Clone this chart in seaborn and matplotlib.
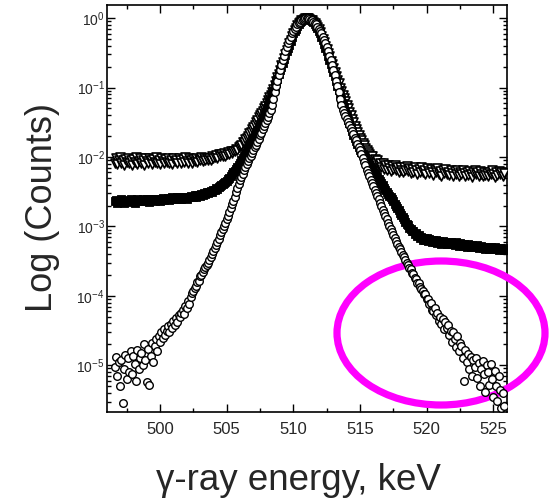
import numpy as np
import pandas as pd
import matplotlib
matplotlib.use("Agg")
import matplotlib.pyplot as plt
import seaborn as sns
from matplotlib.patches import Ellipse
from matplotlib.ticker import FixedLocator, FixedFormatter, LogLocator, NullFormatter, MultipleLocator

# channel calibration of the spectrum (keV)
energy_start = 496.6
energy_step = 0.1

# log10(counts), one value per channel
circles_log10 = [
    -5.02, -4.88, -5.15, -4.95, -5.30, -4.92, -5.55, -5.05, -4.85, -5.20,
    -4.90, -5.10, -4.80, -5.12, -4.86, -4.98, -5.22, -4.78, -5.05, -4.90,
    -4.82, -5.00, -4.70, -4.92, -5.24, -4.76, -5.28, -4.86, -4.68, -4.95,
    -4.72, -4.62, -4.80, -4.58, -4.66, -4.52, -4.60, -4.48, -4.56, -4.50,
    -4.44, -4.52, -4.40, -4.46, -4.36, -4.42, -4.32, -4.38, -4.28, -4.30,
    -4.24, -4.20, -4.26, -4.14, -4.18, -4.08, -4.12, -4.02, -3.96, -3.93,
    -3.88, -3.86, -3.80, -3.78, -3.72, -3.70, -3.66, -3.62, -3.58, -3.56,
    -3.52, -3.48, -3.44, -3.40, -3.36, -3.31, -3.27, -3.22, -3.18, -3.13,
    -3.08, -3.04, -2.99, -2.95, -2.90, -2.85, -2.79, -2.74, -2.68, -2.63,
    -2.57, -2.51, -2.45, -2.39, -2.33, -2.29, -2.24, -2.19, -2.15, -2.10,
    -2.06, -2.02, -1.98, -1.94, -1.90, -1.86, -1.82, -1.78, -1.74, -1.69,
    -1.65, -1.60, -1.56, -1.51, -1.47, -1.42, -1.37, -1.32, -1.25, -1.16,
    -1.07, -0.98, -0.90, -0.82, -0.74, -0.67, -0.60, -0.54, -0.47, -0.42,
    -0.36, -0.31, -0.27, -0.22, -0.19, -0.15, -0.12, -0.09, -0.07, -0.05,
    -0.03, -0.02, -0.01, 0.00, 0.00, 0.00, -0.01, -0.02, -0.03, -0.05,
    -0.07, -0.09, -0.12, -0.15, -0.19, -0.22, -0.27, -0.31, -0.36, -0.42,
    -0.47, -0.54, -0.60, -0.67, -0.74, -0.82, -0.90, -0.98, -1.07, -1.16,
    -1.25, -1.32, -1.37, -1.41, -1.45, -1.50, -1.54, -1.58, -1.63, -1.67,
    -1.72, -1.76, -1.81, -1.85, -1.90, -1.96, -2.01, -2.07, -2.12, -2.18,
    -2.23, -2.28, -2.33, -2.37, -2.42, -2.47, -2.52, -2.56, -2.61, -2.66,
    -2.71, -2.76, -2.80, -2.85, -2.90, -2.95, -2.99, -3.04, -3.08, -3.13,
    -3.17, -3.21, -3.25, -3.29, -3.33, -3.37, -3.41, -3.44, -3.48, -3.52,
    -3.56, -3.60, -3.62, -3.67, -3.69, -3.74, -3.75, -3.81, -3.82, -3.87,
    -3.90, -3.93, -3.98, -3.97, -4.05, -4.04, -4.12, -4.10, -4.20, -4.22,
    -4.18, -4.28, -4.24, -4.36, -4.30, -4.40, -4.34, -4.48, -4.38, -4.46,
    -4.42, -4.56, -4.50, -4.66, -4.52, -4.62, -4.74, -4.58, -4.80, -4.68,
    -4.72, -4.90, -5.22, -4.78, -4.95, -4.84, -5.05, -4.88, -5.15, -4.92,
    -5.02, -4.90, -5.18, -4.96, -5.30, -5.06, -4.94, -5.12, -5.38, -5.00,
    -5.10, -5.28, -4.98, -5.20, -5.45, -5.08, -5.30, -5.52, -5.15, -5.35,
    -5.62, -5.40, -5.58,
]

squares_log10 = [
    -2.64, -2.62, -2.66, -2.63, -2.65, -2.61, -2.64, -2.66, -2.62, -2.64,
    -2.63, -2.65, -2.61, -2.64, -2.62, -2.66, -2.63, -2.61, -2.64, -2.62,
    -2.63, -2.61, -2.64, -2.62, -2.60, -2.63, -2.65, -2.61, -2.62, -2.60,
    -2.63, -2.61, -2.62, -2.60, -2.63, -2.61, -2.59, -2.62, -2.60, -2.61,
    -2.59, -2.62, -2.60, -2.58, -2.61, -2.59, -2.61, -2.58, -2.60, -2.58,
    -2.60, -2.57, -2.59, -2.58, -2.60, -2.57, -2.58, -2.56, -2.58, -2.57,
    -2.55, -2.57, -2.55, -2.54, -2.56, -2.53, -2.54, -2.52, -2.53, -2.51,
    -2.52, -2.50, -2.49, -2.50, -2.47, -2.48, -2.45, -2.46, -2.43, -2.42,
    -2.41, -2.39, -2.38, -2.36, -2.35, -2.32, -2.30, -2.27, -2.25, -2.22,
    -2.20, -2.17, -2.14, -2.11, -2.08, -2.05, -2.01, -1.98, -1.94, -1.90,
    -1.87, -1.83, -1.80, -1.76, -1.72, -1.68, -1.64, -1.61, -1.57, -1.53,
    -1.49, -1.44, -1.39, -1.35, -1.30, -1.25, -1.20, -1.15, -1.10, -1.05,
    -0.99, -0.93, -0.87, -0.81, -0.75, -0.70, -0.64, -0.59, -0.53, -0.48,
    -0.43, -0.38, -0.33, -0.27, -0.22, -0.18, -0.15, -0.11, -0.08, -0.06,
    -0.04, -0.02, -0.01, 0.00, 0.00, 0.00, -0.01, -0.02, -0.04, -0.06,
    -0.08, -0.11, -0.14, -0.18, -0.22, -0.27, -0.32, -0.37, -0.43, -0.48,
    -0.54, -0.60, -0.66, -0.72, -0.78, -0.84, -0.91, -0.97, -1.04, -1.10,
    -1.16, -1.22, -1.28, -1.34, -1.40, -1.46, -1.51, -1.57, -1.62, -1.68,
    -1.72, -1.77, -1.81, -1.86, -1.90, -1.93, -1.96, -2.00, -2.03, -2.06,
    -2.09, -2.12, -2.15, -2.17, -2.20, -2.23, -2.26, -2.29, -2.32, -2.35,
    -2.38, -2.41, -2.44, -2.47, -2.50, -2.53, -2.56, -2.58, -2.61, -2.64,
    -2.67, -2.71, -2.74, -2.77, -2.80, -2.83, -2.87, -2.90, -2.93, -2.96,
    -2.98, -3.02, -3.03, -3.07, -3.07, -3.11, -3.10, -3.14, -3.13, -3.16,
    -3.15, -3.19, -3.16, -3.20, -3.17, -3.21, -3.18, -3.20, -3.22, -3.19,
    -3.23, -3.20, -3.24, -3.21, -3.22, -3.25, -3.21, -3.24, -3.22, -3.26,
    -3.23, -3.25, -3.22, -3.26, -3.24, -3.27, -3.23, -3.25, -3.28, -3.24,
    -3.26, -3.28, -3.25, -3.27, -3.29, -3.26, -3.28, -3.30, -3.27, -3.29,
    -3.28, -3.30, -3.27, -3.31, -3.29, -3.28, -3.31, -3.29, -3.32, -3.30,
    -3.29, -3.32, -3.30, -3.31, -3.33, -3.30, -3.32, -3.31, -3.34, -3.31,
    -3.33, -3.31, -3.34,
]

triangles_log10 = [
    -2.08, -2.02, -2.10, -2.05, -2.00, -2.09, -2.04, -2.11, -2.03, -2.07,
    -2.01, -2.09, -2.05, -2.12, -2.03, -2.07, -2.00, -2.10, -2.06, -2.02,
    -2.08, -2.04, -2.11, -2.02, -2.06, -2.09, -2.01, -2.05, -2.10, -2.03,
    -2.07, -2.00, -2.08, -2.04, -2.10, -2.02, -2.06, -2.09, -2.03, -2.07,
    -2.01, -2.08, -2.05, -2.10, -2.02, -2.06, -2.04, -2.09, -2.01, -2.05,
    -2.08, -2.03, -2.07, -2.00, -2.06, -2.09, -2.02, -2.05, -2.08, -2.03,
    -2.06, -2.01, -2.07, -2.03, -2.05, -2.00, -2.06, -2.02, -2.04, -2.01,
    -2.05, -2.01, -2.04, -1.99, -2.02, -2.00, -1.97, -2.01, -1.96, -1.99,
    -1.95, -1.99, -1.94, -1.98, -1.96, -1.93, -1.96, -1.92, -1.94, -1.91,
    -1.92, -1.88, -1.90, -1.86, -1.84, -1.83, -1.79, -1.78, -1.74, -1.72,
    -1.70, -1.66, -1.64, -1.60, -1.57, -1.54, -1.50, -1.47, -1.43, -1.40,
    -1.37, -1.33, -1.30, -1.26, -1.22, -1.18, -1.14, -1.10, -1.06, -1.02,
    -0.96, -0.91, -0.85, -0.80, -0.74, -0.68, -0.63, -0.57, -0.52, -0.46,
    -0.41, -0.36, -0.31, -0.26, -0.21, -0.17, -0.14, -0.10, -0.07, -0.05,
    -0.03, -0.02, -0.01, 0.00, 0.00, 0.00, -0.01, -0.02, -0.03, -0.05,
    -0.07, -0.10, -0.13, -0.16, -0.20, -0.25, -0.30, -0.35, -0.40, -0.45,
    -0.50, -0.55, -0.61, -0.66, -0.72, -0.78, -0.83, -0.89, -0.94, -1.00,
    -1.05, -1.10, -1.15, -1.20, -1.25, -1.30, -1.35, -1.40, -1.45, -1.50,
    -1.55, -1.59, -1.64, -1.68, -1.72, -1.76, -1.80, -1.83, -1.87, -1.90,
    -1.93, -1.95, -1.99, -1.98, -2.04, -2.03, -2.08, -2.05, -2.11, -2.08,
    -2.14, -2.09, -2.17, -2.12, -2.18, -2.11, -2.16, -2.20, -2.13, -2.17,
    -2.12, -2.19, -2.15, -2.21, -2.14, -2.18, -2.22, -2.15, -2.19, -2.13,
    -2.20, -2.16, -2.23, -2.17, -2.21, -2.14, -2.19, -2.24, -2.17, -2.21,
    -2.15, -2.22, -2.18, -2.25, -2.16, -2.20, -2.23, -2.17, -2.21, -2.26,
    -2.18, -2.22, -2.16, -2.24, -2.20, -2.27, -2.19, -2.23, -2.17, -2.25,
    -2.21, -2.26, -2.18, -2.23, -2.28, -2.20, -2.24, -2.19, -2.27, -2.22,
    -2.25, -2.19, -2.23, -2.28, -2.21, -2.26, -2.20, -2.24, -2.29, -2.22,
    -2.19, -2.25, -2.22, -2.27, -2.20, -2.24, -2.28, -2.21, -2.26, -2.23,
    -2.27, -2.21, -2.25, -2.19, -2.24, -2.29, -2.22, -2.26, -2.20, -2.25,
    -2.22, -2.27, -2.23,
]

xtick_values = [500, 505, 510, 515, 520, 525]
xtick_labels = ["500", "505", "510", "515", "520", "525"]
ytick_values = [1e0, 1e-1, 1e-2, 1e-3, 1e-4, 1e-5]
ytick_labels = [r"$10^{0}$", r"$10^{-1}$", r"$10^{-2}$", r"$10^{-3}$", r"$10^{-4}$", r"$10^{-5}$"]
x_label = "γ-ray energy, keV"
y_label = "Log (Counts)"

sns.set_style("ticks")
plt.rcParams["font.family"] = ["Liberation Sans", "DejaVu Sans"]
plt.rcParams["mathtext.fontset"] = "custom"
plt.rcParams["mathtext.rm"] = "Liberation Sans"
plt.rcParams["mathtext.it"] = "Liberation Sans:italic"
plt.rcParams["mathtext.bf"] = "Liberation Sans:bold"

n = len(circles_log10)
energy = energy_start + energy_step * np.arange(n)
df = pd.DataFrame({
    "energy": np.concatenate([energy, energy, energy]),
    "counts": 10.0 ** np.concatenate([np.array(triangles_log10), np.array(squares_log10), np.array(circles_log10)]),
    "series": ["triangles"] * n + ["squares"] * n + ["circles"] * n,
})

fig = plt.figure(figsize=(5.49, 4.98), dpi=100)
ax = fig.add_axes([0.1958, 0.1717, 0.7282, 0.8183])

styles = {
    "triangles": dict(marker="v", color="white", edgecolor="black", s=42, linewidth=1.2, zorder=3.0),
    "squares": dict(marker="s", color="black", edgecolor="black", s=28, linewidth=0.6, zorder=3.1),
    "circles": dict(marker="o", color="white", edgecolor="black", s=30, linewidth=1.0, zorder=3.2),
}
for name in ["triangles", "squares", "circles"]:
    sub = df[df["series"] == name]
    sns.scatterplot(data=sub, x="energy", y="counts", ax=ax, legend=False, **styles[name])

ax.set_yscale("log")
ax.set_xlim(496.05, 526.05)
ax.set_ylim(10 ** -5.68, 10 ** 0.19)

ax.xaxis.set_major_locator(FixedLocator(xtick_values))
ax.xaxis.set_major_formatter(FixedFormatter(xtick_labels))
ax.xaxis.set_minor_locator(MultipleLocator(2.5))
ax.yaxis.set_major_locator(FixedLocator(ytick_values))
ax.yaxis.set_major_formatter(FixedFormatter(ytick_labels))
ax.yaxis.set_minor_locator(LogLocator(base=10, subs=np.arange(2, 10)))
ax.yaxis.set_minor_formatter(NullFormatter())

ax.tick_params(which="both", direction="in", top=True, right=True, color="black", width=1.0)
ax.tick_params(which="major", length=6)
ax.tick_params(which="minor", length=3)
ax.tick_params(axis="x", which="major", labelsize=12, pad=7)
ax.tick_params(axis="y", which="major", labelsize=10, pad=2)
for sp in ax.spines.values():
    sp.set_color("black")
    sp.set_linewidth(1.2)
ax.set_xlabel("")
ax.set_ylabel("")

fig.text(298 / 549, 1 - 490 / 498, x_label, ha="center", va="baseline", fontsize=26.5)
fig.text(43 / 549, 1 - 207 / 498, y_label, ha="center", va="center", rotation=90, fontsize=26)

ell = Ellipse((441 / 549, 1 - 333 / 498), width=208 / 549, height=144 / 498,
              transform=fig.transFigure, fill=False, edgecolor="#FF00FF",
              linewidth=5.2, clip_on=False, zorder=2.7)
ax.add_patch(ell)

fig.savefig("out.png", dpi=100)
